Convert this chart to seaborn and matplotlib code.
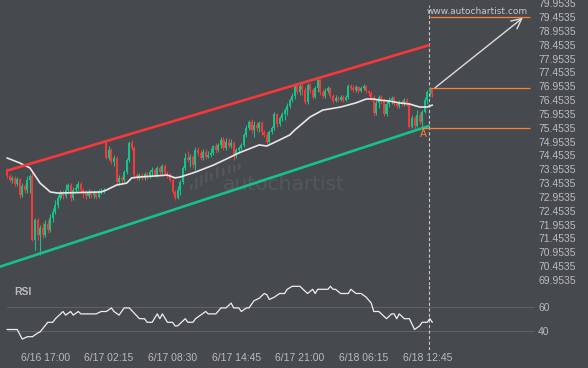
import numpy as np
import pandas as pd
import matplotlib
matplotlib.use("Agg")
import matplotlib.pyplot as plt
import seaborn as sns
from matplotlib.patches import FancyBboxPatch

# ---------------- data ----------------
candle_open = [
    73.92, 73.71, 73.56, 73.64, 73.42, 73.60, 73.02, 73.35, 73.20, 73.56,
    73.71, 71.40, 72.12, 71.57, 71.83, 71.57, 71.97, 71.76, 72.19, 72.41,
    72.66, 72.91, 73.09, 72.98, 73.20, 73.38, 72.91, 73.20, 73.27, 73.42,
    73.20, 73.09, 72.98, 73.13, 73.02, 73.09, 72.95, 73.13, 73.17, 74.94,
    74.36, 74.65, 74.21, 74.36, 73.49, 73.64, 73.56, 73.85, 74.29, 74.90,
    74.72, 73.74, 73.64, 73.74, 73.64, 73.78, 73.71, 73.85, 73.92, 73.74,
    74.00, 73.85, 74.07, 73.82, 73.74, 73.56, 73.13, 72.91, 73.20, 73.49,
    74.00, 74.36, 74.29, 74.39, 74.10, 74.65, 74.54, 74.36, 74.58, 74.39,
    74.47, 74.54, 74.79, 74.65, 74.83, 75.01, 74.72, 74.94, 74.79, 74.90,
    74.47, 74.65, 74.72, 74.83, 75.19, 75.44, 75.66, 75.37, 75.55, 75.44,
    75.62, 75.30, 75.19, 74.94, 75.30, 75.44, 75.95, 75.59, 75.80, 75.95,
    76.09, 76.24, 76.45, 76.60, 76.96, 76.74, 76.96, 76.82, 76.38, 77.00,
    76.82, 76.56, 76.89, 77.18, 76.74, 76.60, 76.78, 76.89, 76.60, 76.42,
    76.53, 76.45, 76.56, 76.45, 76.56, 76.96, 76.89, 76.82, 76.92, 76.78,
    76.89, 76.96, 76.78, 76.71, 76.49, 75.98, 76.35, 76.56, 76.45, 75.95,
    76.31, 76.45, 76.53, 76.31, 76.24, 76.38, 76.31, 76.45, 76.31, 75.48,
    75.80, 75.51, 75.91, 75.66, 76.02, 76.45, 76.74, 76.89,
]
candle_close = [
    73.71, 73.56, 73.64, 73.42, 73.60, 73.02, 73.35, 73.20, 73.56, 73.71,
    71.40, 72.12, 71.57, 71.83, 71.57, 71.97, 71.76, 72.19, 72.41, 72.66,
    72.91, 73.09, 72.98, 73.20, 73.38, 72.91, 73.20, 73.27, 73.42, 73.20,
    73.09, 72.98, 73.13, 73.02, 73.09, 72.95, 73.13, 73.17, 73.20, 74.36,
    74.65, 74.21, 74.36, 73.49, 73.64, 73.56, 73.85, 74.29, 74.90, 74.72,
    73.74, 73.64, 73.74, 73.64, 73.78, 73.71, 73.85, 73.92, 73.74, 74.00,
    73.85, 74.07, 73.82, 73.74, 73.56, 73.13, 72.91, 73.20, 73.49, 74.00,
    74.36, 74.29, 74.39, 74.10, 74.65, 74.54, 74.36, 74.58, 74.39, 74.47,
    74.54, 74.79, 74.65, 74.83, 75.01, 74.72, 74.94, 74.79, 74.90, 74.47,
    74.65, 74.72, 74.83, 75.19, 75.44, 75.66, 75.37, 75.55, 75.44, 75.62,
    75.30, 75.19, 74.94, 75.30, 75.44, 75.95, 75.59, 75.80, 75.95, 76.09,
    76.24, 76.45, 76.60, 76.96, 76.74, 76.96, 76.82, 76.38, 77.00, 76.82,
    76.56, 76.89, 77.18, 76.74, 76.60, 76.78, 76.89, 76.60, 76.42, 76.53,
    76.45, 76.56, 76.45, 76.56, 76.96, 76.89, 76.82, 76.92, 76.78, 76.89,
    76.96, 76.78, 76.71, 76.49, 75.98, 76.35, 76.56, 76.45, 75.95, 76.31,
    76.45, 76.53, 76.31, 76.24, 76.38, 76.31, 76.45, 76.31, 75.48, 75.80,
    75.51, 75.91, 75.66, 76.02, 76.45, 76.74, 76.89, 76.67,
]
candle_high = [
    74.00, 73.78, 73.71, 73.71, 73.67, 73.64, 73.45, 73.42, 73.71, 73.78,
    73.85, 72.19, 72.19, 71.94, 72.05, 72.12, 72.12, 72.33, 72.55, 72.84,
    73.02, 73.20, 73.20, 73.42, 73.45, 73.45, 73.31, 73.42, 73.53, 73.49,
    73.27, 73.20, 73.24, 73.20, 73.20, 73.17, 73.24, 73.27, 73.27, 75.01,
    74.79, 74.72, 74.47, 74.43, 73.74, 73.71, 73.92, 74.36, 74.97, 75.01,
    74.79, 73.82, 73.82, 73.82, 73.85, 73.85, 73.92, 74.03, 74.00, 74.07,
    74.07, 74.14, 74.14, 73.89, 73.82, 73.64, 73.20, 73.35, 73.56, 74.07,
    74.54, 74.61, 74.50, 74.47, 74.76, 74.76, 74.65, 74.68, 74.68, 74.61,
    74.72, 74.83, 74.90, 74.90, 75.12, 75.12, 75.08, 75.08, 75.04, 74.97,
    74.72, 74.79, 74.90, 75.26, 75.55, 75.73, 75.77, 75.70, 75.66, 75.70,
    75.70, 75.37, 75.30, 75.37, 75.51, 76.02, 75.98, 75.88, 76.02, 76.17,
    76.35, 76.53, 76.71, 77.07, 77.03, 77.03, 77.07, 76.92, 77.07, 77.07,
    76.89, 76.96, 77.25, 77.21, 76.85, 76.89, 76.96, 76.92, 76.67, 76.64,
    76.60, 76.64, 76.64, 76.64, 77.03, 77.03, 77.00, 77.00, 76.96, 76.96,
    77.03, 77.00, 76.82, 76.78, 76.64, 76.45, 76.64, 76.64, 76.53, 76.45,
    76.56, 76.60, 76.60, 76.42, 76.45, 76.45, 76.53, 76.53, 76.38, 75.91,
    75.88, 76.09, 76.02, 76.09, 76.56, 76.82, 76.92, 76.89,
]
candle_low = [
    73.64, 73.49, 73.45, 73.35, 73.35, 72.91, 72.95, 73.09, 73.09, 73.09,
    71.36, 71.03, 71.40, 70.85, 71.47, 71.50, 71.65, 71.68, 72.05, 72.33,
    72.55, 72.84, 72.88, 72.91, 73.09, 72.80, 72.84, 73.09, 73.20, 73.09,
    72.91, 72.88, 72.91, 72.91, 72.91, 72.88, 72.91, 73.06, 73.09, 74.32,
    74.29, 74.14, 74.07, 73.42, 73.38, 73.42, 73.49, 73.78, 74.21, 74.65,
    73.64, 73.56, 73.56, 73.56, 73.56, 73.60, 73.64, 73.71, 73.67, 73.67,
    73.74, 73.78, 73.74, 73.64, 73.49, 73.06, 72.84, 72.88, 73.02, 73.42,
    73.92, 74.21, 74.03, 74.00, 73.92, 74.43, 74.29, 74.29, 74.32, 74.36,
    74.39, 74.47, 74.54, 74.58, 74.72, 74.65, 74.65, 74.72, 74.72, 74.29,
    74.36, 74.54, 74.65, 74.76, 75.12, 75.37, 75.26, 75.12, 75.33, 75.30,
    75.19, 75.12, 74.86, 74.90, 75.23, 75.37, 75.48, 75.51, 75.70, 75.73,
    75.91, 76.17, 76.38, 76.49, 76.67, 76.64, 76.64, 76.31, 76.31, 76.71,
    76.49, 76.53, 76.74, 76.64, 76.53, 76.53, 76.71, 76.53, 76.35, 76.38,
    76.38, 76.42, 76.38, 76.42, 76.49, 76.82, 76.74, 76.74, 76.71, 76.74,
    76.82, 76.71, 76.60, 76.42, 75.88, 75.91, 76.17, 76.31, 75.88, 75.88,
    76.20, 76.31, 76.24, 76.17, 76.17, 76.24, 76.24, 76.24, 75.44, 75.44,
    75.41, 75.48, 75.59, 75.48, 75.98, 76.31, 76.56, 76.56,
]

# moving average (white line), read at selected candles
ma_idx = [0, 5, 9, 13, 17, 20, 37, 39, 43, 47, 49, 52, 63, 66, 68, 74, 81, 87, 91,
          99, 102, 107, 111, 113, 119, 124, 131, 137, 141, 144, 146, 150, 154, 158,
          162, 165, 167]
ma_val = [74.36, 74.18, 74.00, 73.45, 73.13, 73.09, 73.13, 73.20, 73.38, 73.45, 73.64,
          73.67, 73.74, 73.64, 73.67, 73.85, 74.10, 74.36, 74.54, 74.83, 74.79, 75.01,
          75.19, 75.37, 75.84, 76.09, 76.20, 76.35, 76.49, 76.49, 76.45, 76.42, 76.35,
          76.31, 76.20, 76.20, 76.27]

# RSI
rsi_idx = [0, 4, 6, 8, 10, 12, 13, 16, 18, 19, 20, 22, 23, 25, 26, 28, 29, 35, 37, 39,
           41, 42, 44, 45, 46, 48, 52, 54, 55, 57, 59, 60, 61, 63, 65, 66, 67, 70, 71,
           73, 74, 76, 78, 79, 82, 84, 86, 88, 89, 91, 92, 94, 95, 97, 99, 101, 102,
           103, 105, 107, 109, 110, 112, 115, 118, 120, 121, 122, 126, 127, 128, 129,
           131, 134, 135, 137, 139, 141, 143, 144, 146, 149, 151, 152, 153, 154, 156,
           158, 160, 162, 163, 165, 166, 167]
rsi_val = [41, 41, 33, 35, 35, 38, 39, 47, 47, 50, 52, 56, 53, 56, 53, 56, 54, 54, 56, 56,
           59, 56, 53, 56, 59, 59, 50, 50, 47, 47, 54, 50, 54, 47, 47, 44, 44, 50, 47,
           47, 50, 53, 56, 54, 54, 59, 59, 63, 59, 59, 56, 59, 59, 65, 67, 71, 70,
           66, 68, 71, 71, 74.5, 77, 77, 71, 74.5, 71, 74.5, 74.5, 77, 74.5, 74.5,
           71, 71, 74.5, 71, 71, 68, 63, 56, 56, 50, 54, 54, 50, 54, 50,
           50, 41, 44, 47, 47, 50, 47]

# channel lines
upper_x = [0, 165.5]
upper_y = [73.90, 78.43]
lower_x = [-2.75, 165.5]
lower_y = [70.43, 75.51]

# target levels (orange)
level_vals = [79.4535, 76.90, 75.45]
level_start = [166.0, 166.0, 163.0]
level_end = 205.3
point_a = (163.3, 75.24)
arrow_from = (167.3, 76.84)
arrow_to = (203.4, 79.49)
pattern_end = 165.5

xtick_idx = [15, 40, 65, 90, 115, 140, 165]
xtick_lbl = ["6/16 17:00", "6/17 02:15", "6/17 08:30", "6/17 14:45",
             "6/17 21:00", "6/18 06:15", "6/18 12:45"]
price_ticks = [69.9535 + 0.5 * k for k in range(21)]
rsi_ticks = [40, 60]

# ---------------- style ----------------
BG = "#46494e"
TXT = "#b9bbbe"
RED = "#f5393b"
GREEN = "#17c28a"
ORANGE = "#ff7f33"

sns.set_theme(style="dark", rc={"axes.facecolor": BG, "figure.facecolor": BG,
                                "axes.grid": False})
plt.rcParams["font.family"] = ["Liberation Sans", "DejaVu Sans"]

W, H = 588, 368
fig = plt.figure(figsize=(W / 100, H / 100), dpi=100)
ax_right = 535
ax = fig.add_axes([0, (H - 285) / H, ax_right / W, 285 / H])
axr = fig.add_axes([0, (H - 350) / H, ax_right / W, 65 / H])

for a in (ax, axr):
    a.set_facecolor(BG)
    for s in a.spines.values():
        s.set_visible(False)
    a.set_xlim(-2.75, (ax_right - 7) / 2.547)

df = pd.DataFrame({"o": candle_open, "h": candle_high, "l": candle_low, "c": candle_close})
df["i"] = np.arange(len(df))
up = df["c"] >= df["o"]
cols = np.where(up, GREEN, RED)

ax.vlines(df["i"], df["l"], df["h"], colors=cols, lw=0.8, zorder=3)
body = (df["c"] - df["o"]).abs().clip(lower=0.03)
ax.bar(df["i"], body, bottom=np.minimum(df["o"], df["c"]), width=0.8,
       color=cols, linewidth=0, zorder=3)

sns.lineplot(x=ma_idx, y=ma_val, ax=ax, color="#e6e6e6", lw=1.2, zorder=4)
sns.lineplot(x=upper_x, y=upper_y, ax=ax, color=RED, lw=1.9, zorder=5)
sns.lineplot(x=lower_x, y=lower_y, ax=ax, color=GREEN, lw=1.9, zorder=5)

for v, s in zip(level_vals, level_start):
    ax.hlines(v, s, level_end, colors=ORANGE, lw=0.9, zorder=5)

ax.text(point_a[0], point_a[1], "A", color=ORANGE, fontsize=7.5,
        ha="center", va="center", zorder=6)

ax.annotate("", xy=arrow_to, xytext=arrow_from,
            arrowprops=dict(arrowstyle="->,head_length=0.6,head_width=0.3",
                            color="#dcdcdc", lw=1.0), zorder=6)

ax.axvline(pattern_end, ymin=0, ymax=1 - 5 / 285, color="#c8c8c8", lw=0.8,
           dashes=(3, 2), zorder=2)
axr.axvline(pattern_end, color="#c8c8c8", lw=0.8, dashes=(3, 2), zorder=2)

# watermarks
ax.text(477.5 / ax_right, 1 - 11 / 285, "www.autochartist.com", transform=ax.transAxes,
        color="#c6c8ca", fontsize=6.5, family="DejaVu Sans", ha="center", va="center",
        zorder=6)
ax.text(284 / ax_right, 1 - 185 / 285, "autochartist", transform=ax.transAxes,
        color="#54585d", fontsize=14.5, family="DejaVu Sans", ha="center",
        va="center", zorder=1)
logo_x = [190, 195, 200, 205, 210, 216, 222, 228, 233, 238]
logo_top = [184, 178, 175, 172, 173, 167, 168, 165, 165, 163]
logo_bot = [190, 190, 186, 183, 181, 178, 176, 174, 172, 170]
for lx, lt, lb in zip(logo_x, logo_top, logo_bot):
    ax.add_patch(FancyBboxPatch((lx / ax_right, 1 - lb / 285), 2.6 / ax_right,
                                (lb - lt) / 285, boxstyle="round,pad=0,rounding_size=0.002",
                                transform=ax.transAxes, color="#52565b", lw=0, zorder=1))

# main y axis
ax.set_ylim(80.068 - 0.03614 * 285, 80.068)
ax.yaxis.tick_right()
ax.set_yticks(price_ticks)
ax.set_yticklabels([f"{t:.4f}" for t in price_ticks])
ax.tick_params(axis="y", length=0, pad=2.2, labelsize=7.5, labelcolor=TXT)
ax.set_xticks([])
ax.set_xlabel("")
ax.set_ylabel("")

# RSI panel
sns.lineplot(x=rsi_idx, y=rsi_val, ax=axr, color="#eeeeee", lw=0.9, zorder=4)
axr.set_ylim(60 - (350 - 306.7) / 1.2, 60 + (306.7 - 285) / 1.2)
for v in rsi_ticks:
    axr.axhline(v, xmin=7 / ax_right, xmax=1, color="#5d6064", lw=0.8, zorder=1)
axr.yaxis.tick_right()
axr.set_yticks(rsi_ticks)
axr.set_yticklabels([str(t) for t in rsi_ticks])
axr.tick_params(axis="y", length=0, pad=2.2, labelsize=7.5, labelcolor=TXT)
axr.set_xticks(xtick_idx)
axr.set_xticklabels(xtick_lbl)
axr.tick_params(axis="x", length=0, pad=2.0, labelsize=7.5, labelcolor=TXT)
axr.text(14 / ax_right, 1 - 7 / 65, "RSI", transform=axr.transAxes, color=TXT,
         fontsize=7.5, fontweight="bold", ha="left", va="center")
axr.set_xlabel("")
axr.set_ylabel("")

fig.savefig("out.png", dpi=100, facecolor=BG)
